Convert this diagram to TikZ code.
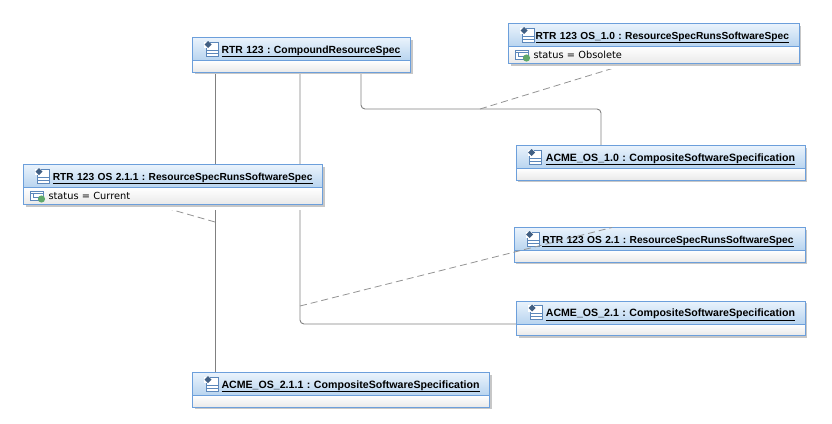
\documentclass[tikz,border=0pt]{standalone}
\usepackage{fontspec}
\setmainfont{Liberation Sans}
\newfontfamily\attrfont{DejaVu Sans}
\usepackage{tikz}
\usetikzlibrary{positioning,shadows,backgrounds}
\definecolor{boxline}{HTML}{6C9FDB}
\definecolor{headtop}{HTML}{EAF3FC}
\definecolor{headbot}{HTML}{B8D4EF}
\definecolor{bodybot}{HTML}{E9E9E9}
\definecolor{linkgrey}{HTML}{808080}
\definecolor{attrgreen}{HTML}{5FA86A}
\tikzstyle{halo} = [general shadow={fill=white,shadow yshift=-5pt}]
\tikzstyle{soft} = [general shadow={fill=black!22,shadow xshift=2pt,shadow yshift=-2pt}]
\tikzstyle{head} = [rectangle, soft, draw=boxline, line width=0.9pt, top color=headtop, bottom color=headbot, text=black, text width=#1, inner xsep=10pt, inner ysep=0pt, minimum height=23pt, text height=10.5pt, text depth=2.5pt, align=right, outer sep=0pt, font=\fontsize{10.6}{12}\selectfont\bfseries\frenchspacing]
\tikzstyle{narrow} = [font=\fontsize{10.35}{12}\selectfont\bfseries\frenchspacing]
\tikzstyle{narrower} = [font=\fontsize{10.2}{12}\selectfont\bfseries\frenchspacing]
\tikzstyle{compartment} = [rectangle, soft, draw=boxline, line width=0.9pt, top color=white, bottom color=bodybot, text=black, text width=#1, inner xsep=10pt, inner ysep=0pt, minimum height=11.5pt, align=left, outer sep=0pt, font=\attrfont\fontsize{9.8}{10}\selectfont]
\tikzstyle{link} = [draw=linkgrey, line width=0.9pt, rounded corners=4pt]
\tikzstyle{dashlink} = [draw=linkgrey!85, line width=0.8pt, dash pattern=on 7pt off 4pt]
\tikzset{
  classicon/.pic={
    \draw [boxline!85!black, line width=0.8pt, fill=white] (-5,-7) rectangle (7,7);
    \draw [boxline!85!black, line width=0.8pt] (-5,1) -- (7,1) (-5,4) -- (7,4);
    \fill [white] (-7,-7.5) rectangle (0,-1);
    \draw [boxline!85!black, line width=0.8pt] (-1,-7) -- (7,-7) (-5,-1) -- (-5,7);
    \fill [boxline!60!black] (-3,-8) -- (0.5,-4.5) -- (-3,-1) -- (-6.5,-4.5) -- cycle;
  },
  attricon/.pic={
    \draw [boxline!85!black, line width=0.8pt, fill=white] (-7,-5) rectangle (6,4);
    \draw [boxline!85!black, line width=0.8pt] (-7,-2.5) -- (6,-2.5) (-4,-2.5) -- (-4,1.5) -- (1,1.5);
    \fill [attrgreen] (4,3) circle (3.6);
  }
}
\begin{document}
\begin{tikzpicture}[x=1pt,y=-1pt]
\useasboundingbox (0,0) rectangle (832,423);

\node (cmpd) [head=198pt, narrow, anchor=north west] at (192.5,37.5) {\underline{RTR 123 : CompoundResourceSpec}};
\node (cmpdB) [compartment=198pt, below=0pt of cmpd] {};
\pic at ([xshift=18.5pt]cmpd.west) {classicon};

\node (rtr211) [head=279pt, narrower, anchor=north west] at (23.5,164.5) {\underline{RTR 123 OS 2.1.1 : ResourceSpecRunsSoftwareSpec}};
\node (rtr211B) [halo, compartment=279pt, minimum height=17pt, below=0pt of rtr211] {\hspace*{15pt}status = Current};
\pic at ([xshift=18.5pt]rtr211.west) {classicon};
\pic at ([xshift=14pt]rtr211B.west) {attricon};

\node (rtr10) [head=270.5pt, narrower, anchor=north west] at (508.5,23.5) {\underline{RTR 123 OS\_1.0 : ResourceSpecRunsSoftwareSpec}};
\node (rtr10B) [halo, compartment=270.5pt, minimum height=17pt, below=0pt of rtr10] {\hspace*{15pt}status = Obsolete};
\pic at ([xshift=18.5pt]rtr10.west) {classicon};
\pic at ([xshift=14pt]rtr10B.west) {attricon};

\node (acme10) [head=269pt, anchor=north west] at (516,145.5) {\underline{ACME\_OS\_1.0 : CompositeSoftwareSpecification}};
\node (acme10B) [compartment=269pt, below=0pt of acme10] {};
\pic at ([xshift=18.5pt]acme10.west) {classicon};

\node (rtr21) [head=271pt, narrower, anchor=north west] at (514,227.5) {\underline{RTR 123 OS 2.1 : ResourceSpecRunsSoftwareSpec}\hspace*{1.5pt}};
\node (rtr21B) [compartment=271pt, below=0pt of rtr21] {};
\pic at ([xshift=18.5pt]rtr21.west) {classicon};

\node (acme21) [head=268.5pt, anchor=north west] at (516.5,301) {\underline{ACME\_OS\_2.1 : CompositeSoftwareSpecification}};
\node (acme21B) [compartment=268.5pt, below=0pt of acme21] {};
\pic at ([xshift=18.5pt]acme21.west) {classicon};

\node (acme211) [head=277pt, anchor=north west] at (192.5,372.5) {\underline{ACME\_OS\_2.1.1 : CompositeSoftwareSpecification}};
\node (acme211B) [compartment=277pt, below=0pt of acme211] {};
\pic at ([xshift=18.5pt]acme211.west) {classicon};

\coordinate (turnC) at (480,109);
\coordinate (joinA) at (215,222);
\coordinate (joinB) at (300,306);

\begin{scope}[on background layer]
\draw [link] ([xshift=22.5pt]cmpdB.south west) -- ([xshift=22.5pt]acme211.north west);
\draw [link] ([xshift=107.5pt]cmpdB.south west) |- (acme21.south west);
\draw [link] ([xshift=168.5pt]cmpdB.south west) |- (turnC) -| ([xshift=85pt]acme10.north west);
\draw [dashlink] (turnC) -- ([xshift=120pt]rtr10B.south west);
\draw [dashlink] (joinA) -- ([xshift=130pt]rtr211B.south west);
\end{scope}
\draw [dashlink] (joinB) -- ([xshift=98pt]rtr21.north west);
\end{tikzpicture}
\end{document}
